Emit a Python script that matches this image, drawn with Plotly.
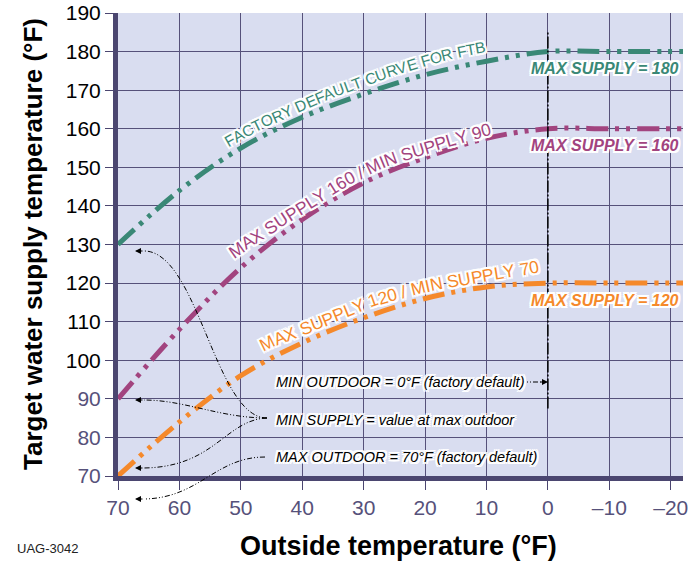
import math

import plotly.graph_objects as go

# ---- data --------------------------------------------------------------------

outdoor = [70, 60, 50, 40, 30, 20, 10, 0, -10, -22]
supply_ftb = [130, 144, 155, 163, 169, 174, 177.5, 180, 180, 180]
supply_160 = [90, 108, 124, 136.5, 146, 152.5, 157.5, 160, 160, 160]
supply_120 = [70, 84, 96, 104.5, 111, 116, 119, 120, 120, 120]

max_supply = [180, 160, 120]
min_outdoor = 0

x_ticks = [70, 60, 50, 40, 30, 20, 10, 0, -10, -20]
x_ticklabels = ["70", "60", "50", "40", "30", "20", "10", "0", "\u201310", "\u201320"]
y_ticks = [70, 80, 90, 100, 110, 120, 130, 140, 150, 160, 170, 180, 190]

# ---- style -------------------------------------------------------------------

GREEN = "#3a8876"
PURPLE = "#a2447f"
ORANGE = "#f5892b"
GRID = "#56517a"
AXIS = "#4b4670"
MUTED = "#56517a"
BG = "#d9ddf0"
FONT = "Liberation Sans, Arial, sans-serif"
CURVE_DASH = "22px,7px,4px,7px,4px,7px"
HALO = ", ".join(f"{dx}px {dy}px 0 #fff" for dx in (-2, 0, 2) for dy in (-2, 0, 2))

W, H = 694, 561
# plot box in pixels (used to place the hand-drawn callouts)
L, R, T, B = 118, 683, 13, 476

# Arial / Liberation Sans advance widths (per 1000 em) for the curve labels
ADV = {"A": 667, "B": 667, "C": 722, "D": 722, "E": 667, "F": 611, "I": 278, "L": 556,
       "M": 833, "N": 722, "O": 778, "P": 667, "R": 722, "S": 667, "T": 611, "U": 722,
       "V": 667, "X": 667, "Y": 667, " ": 278, "/": 278}


def at(px, py):
    return (px - L) / (R - L), (B - py) / (B - T)


def path(points):
    cmd = []
    for i, p in enumerate(points):
        x, y = at(*p)
        cmd.append(("M " if i == 0 else "") + f"{x:.4f},{y:.4f}")
    return cmd


def text_on_path(fig, text, pts, size, color):
    """Lay the label out letter by letter along a pixel polyline."""
    s = [0.0]
    for (x0, y0), (x1, y1) in zip(pts, pts[1:]):
        s.append(s[-1] + math.hypot(x1 - x0, y1 - y0))

    def point(d):
        d = min(max(d, 0.0), s[-1])
        for i in range(len(pts) - 1):
            if d <= s[i + 1]:
                f = (d - s[i]) / (s[i + 1] - s[i])
                return (pts[i][0] + f * (pts[i + 1][0] - pts[i][0]),
                        pts[i][1] + f * (pts[i + 1][1] - pts[i][1]))
        return pts[-1]

    widths = [ADV.get(c, 556) * size / 1000 for c in text]
    d = (s[-1] - sum(widths)) / 2
    glyphs = []
    for c, w in zip(text, widths):
        mid = d + w / 2
        d += w
        if c == " ":
            continue
        x, y = point(mid)
        xa, ya = point(mid - 14)
        xb, yb = point(mid + 14)
        ang = math.degrees(math.atan2(ya - yb, xb - xa))
        glyphs.append((c, at(x, y), ang))

    # white outline first, coloured letters on top
    for colour, shadow in [("#ffffff", HALO), (color, "none")]:
        for c, (x, y), ang in glyphs:
            fig.add_annotation(x=x, y=y, xref="paper", yref="paper", text=c, showarrow=False,
                               textangle=-ang, xanchor="center", yanchor="middle",
                               font=dict(family=FONT, size=size, color=colour, shadow=shadow))


fig = go.Figure()

for ys, col in [(supply_ftb, GREEN), (supply_160, PURPLE), (supply_120, ORANGE)]:
    fig.add_trace(go.Scatter(
        x=outdoor, y=ys, mode="lines",
        line=dict(color=col, width=5, dash=CURVE_DASH, shape="spline", smoothing=1),
        hoverinfo="skip", showlegend=False,
    ))

# min outdoor marker line
fig.add_shape(type="line", xref="x", yref="y", x0=min_outdoor, x1=min_outdoor, y0=87.5, y1=185,
              line=dict(color="black", width=1.5, dash="12px,2px,2px,2px"))

# ---- curve labels ------------------------------------------------------------

text_on_path(fig, "FACTORY DEFAULT CURVE FOR FTB",
             [(225, 143), (253, 127), (322, 96), (387, 72), (451, 53), (486, 47)], 15.5, GREEN)
text_on_path(fig, "MAX SUPPLY 160 / MIN SUPPLY 90",
             [(224, 259), (240, 247), (293, 213), (346, 180), (384, 161), (436, 145),
              (483, 131), (499, 127)], 17.5, PURPLE)
text_on_path(fig, "MAX SUPPLY 120 / MIN SUPPLY 70",
             [(256, 350), (270, 342), (323, 321), (377, 299), (427, 286), (480, 276),
              (531, 268), (545, 265)], 17.5, ORANGE)

for val, col in zip(max_supply, [GREEN, PURPLE, ORANGE]):
    fig.add_annotation(x=0.997, xref="paper", y=val - 4.4, yref="y",
                       text=f"MAX SUPPLY = {val}", showarrow=False,
                       xanchor="right", yanchor="middle",
                       font=dict(family=FONT, size=16, color=col, weight="bold",
                                 style="italic", shadow=HALO))

# ---- callout notes -----------------------------------------------------------

notes = [
    ("MIN OUTDOOR = 0\u00b0F (factory default)", 382),
    ("MIN SUPPLY = value at max outdoor", 420),
    ("MAX OUTDOOR = 70\u00b0F (factory default)", 457),
]
for txt, py in notes:
    x, y = at(274, py)
    fig.add_annotation(x=x, y=y, xref="paper", yref="paper", text=txt, showarrow=False,
                       xanchor="left", yanchor="middle",
                       font=dict(family=FONT, size=14.5, color="black", style="italic", shadow=HALO))

curves = [
    [(267, 418), (215, 418), (198, 251), (144, 251)],
    [(267, 418), (220, 418), (185, 400), (144, 400)],
    [(267, 418), (225, 420), (215, 467), (144, 468)],
    [(265, 457), (215, 457), (200, 498), (144, 499)],
]
for pts in curves:
    p = path(pts)
    fig.add_shape(type="path", xref="paper", yref="paper",
                  path=f"{p[0]} C {p[1]} {p[2]} {p[3]}",
                  line=dict(color="black", width=1, dash="5px,2px,1px,2px,1px,2px"))
p = path([(520, 382), (541, 382)])
fig.add_shape(type="path", xref="paper", yref="paper", path=f"{p[0]} L {p[1]}",
              line=dict(color="black", width=1, dash="5px,2px,1px,2px,1px,2px"))

for px, py, ax in [(135, 251, 9), (135, 400, 9), (135, 468, 9), (135, 499, 9), (548, 382, -9)]:
    x, y = at(px, py)
    fig.add_annotation(x=x, y=y, xref="paper", yref="paper", text="", showarrow=True,
                       ax=ax, ay=0, arrowhead=2, arrowsize=1.2, arrowwidth=1,
                       arrowcolor="black", standoff=0)

# ---- titles ------------------------------------------------------------------

x, y = at(33, 244)
fig.add_annotation(x=x, y=y, xref="paper", yref="paper", text="Target water supply temperature (\u00b0F)",
                   textangle=-90, showarrow=False, xanchor="center", yanchor="middle",
                   font=dict(family=FONT, size=26, color="black", weight="bold"))
x, y = at(398, 546)
fig.add_annotation(x=x, y=y, xref="paper", yref="paper", text="Outside temperature (\u00b0F)",
                   showarrow=False, xanchor="center", yanchor="middle",
                   font=dict(family=FONT, size=27, color="black", weight="bold"))
x, y = at(15, 548)
fig.add_annotation(x=x, y=y, xref="paper", yref="paper", text="UAG-3042",
                   showarrow=False, xanchor="left", yanchor="middle",
                   font=dict(family=FONT, size=13, color="#222222"))

y_ticktext = [f"<span style='color:{MUTED}'>{v}</span>" if v < 100 else str(v) for v in y_ticks]

fig.update_layout(
    width=W, height=H, autosize=False,
    margin=dict(l=L, r=W - R, t=T, b=H - B),
    paper_bgcolor="white", plot_bgcolor=BG,
    font=dict(family=FONT),
    xaxis=dict(range=[70, -22], tickvals=x_ticks, ticktext=x_ticklabels, automargin=False,
               ticklabeloverflow="allow",
               showgrid=True, gridcolor=GRID, gridwidth=1, zeroline=False,
               showline=True, linecolor=AXIS, linewidth=5,
               ticks="outside", ticklen=9, tickcolor=AXIS, tickwidth=1,
               tickfont=dict(size=21, color=MUTED)),
    yaxis=dict(range=[70, 190], tickvals=y_ticks, ticktext=y_ticktext, automargin=False,
               ticklabeloverflow="allow",
               showgrid=True, gridcolor=GRID, gridwidth=1, zeroline=False,
               showline=True, linecolor=AXIS, linewidth=5,
               ticks="outside", ticklen=8, tickcolor=AXIS, tickwidth=1,
               tickfont=dict(size=21, color="black")),
)

# drop the default page margin so the figure sits at the window's top-left corner
fig.write_html("out.html", config={"displayModeBar": False},
               post_script="document.body.style.margin = '0';")
